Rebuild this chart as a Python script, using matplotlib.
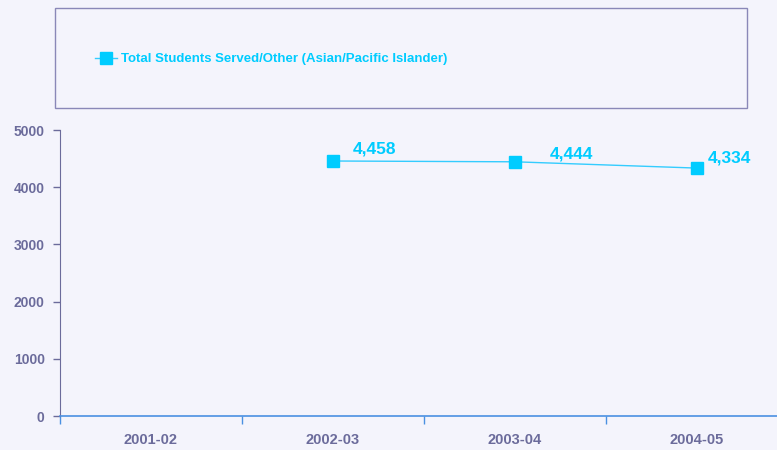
import matplotlib.pyplot as plt
from matplotlib.patches import Rectangle

# data
years = ['2001-02', '2002-03', '2003-04', '2004-05']
xpos = [1, 2, 3]          # 2001-02 has no value
students = [4458, 4444, 4334]
value_labels = ['4,458', '4,444', '4,334']
yticks = [0, 1000, 2000, 3000, 4000, 5000]

bg = '#F4F4FC'
cyan = '#00CCFF'
axis_txt = '#6B6B9B'

plt.rcParams['font.family'] = ['Liberation Sans', 'DejaVu Sans']
plt.rcParams['font.weight'] = 'bold'

fig = plt.figure(figsize=(7.77, 4.5), dpi=100, facecolor=bg)
ax = fig.add_axes([60 / 777, 34 / 450, 728 / 777, 286 / 450], facecolor=bg)

line, = ax.plot(xpos, students, color='#33CCFF', lw=1, marker='s', ms=8,
                mfc=cyan, mec=cyan, label='Total Students Served/Other (Asian/Pacific Islander)')

# label offsets in points, as Excel placed them
offsets = [(14, 3), (25, 0), (8, 2)]
for x, y, s, off in zip(xpos, students, value_labels, offsets):
    ax.annotate(s, (x, y), xytext=off, textcoords='offset points',
                color=cyan, fontsize=12.5, fontweight='bold', ha='left', va='bottom')

ax.set_xlim(-0.5, 3.5)
ax.set_ylim(0, 5000)
ax.set_yticks(yticks)
ax.set_yticklabels([str(v) for v in yticks])
ax.set_xticks([-0.5, 0.5, 1.5, 2.5])
ax.set_xticklabels([])
ax.set_xticks(range(len(years)), minor=True)
ax.set_xticklabels(years, minor=True)

ax.tick_params(axis='y', colors=axis_txt, labelsize=10, length=5, width=1, pad=6)
ax.tick_params(axis='x', which='major', colors='#4A90E2', length=6, width=1, direction='out')
ax.tick_params(axis='x', which='minor', length=0, labelsize=10.5, labelcolor=axis_txt, pad=12)

for sp in ['top', 'right']:
    ax.spines[sp].set_visible(False)
ax.spines['left'].set_color(axis_txt)
ax.spines['bottom'].set_color('#4A90E2')
ax.spines['bottom'].set_linewidth(1.2)

# legend box
fig.patches.append(Rectangle((55 / 777, 1 - 108 / 450), 692 / 777, 100 / 450,
                             transform=fig.transFigure, fill=False,
                             edgecolor='#8A88B8', lw=1))
leg = fig.legend(handles=[line], loc='center left', bbox_to_anchor=(83 / 777, 1 - 59 / 450),
                 frameon=False, fontsize=9.5, handlelength=1.7, handletextpad=0.25)
for t in leg.get_texts():
    t.set_color(cyan)

fig.savefig('out.png', dpi=100, facecolor=bg)
